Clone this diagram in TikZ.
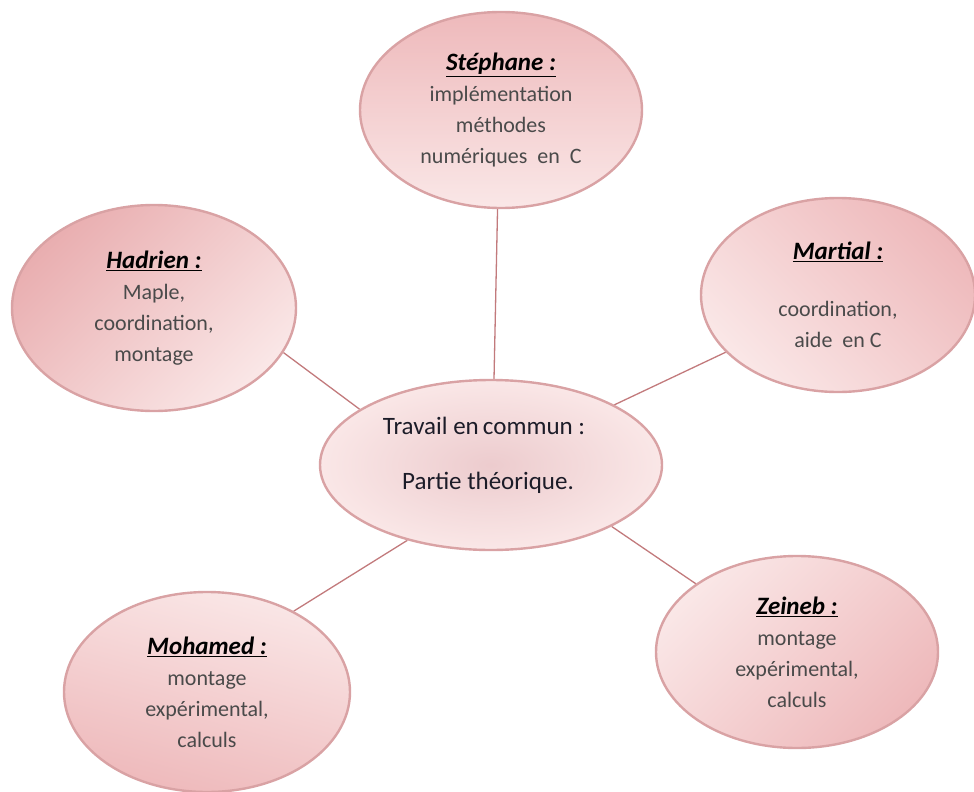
\documentclass[tikz,border=0pt]{standalone}
\usepackage{fontspec}
\setmainfont{Carlito}
\usetikzlibrary{shapes.geometric,backgrounds}
\definecolor{rim}{HTML}{D9A2A4}
\definecolor{link}{HTML}{C27A7C}
\definecolor{dk}{HTML}{EEB9BB}
\definecolor{dkk}{HTML}{E9AEB0}
\definecolor{lt}{HTML}{FAE7E7}
\definecolor{txt}{HTML}{4A4A4A}
\definecolor{ctxt}{HTML}{1C1C28}
\newcommand{\ttl}[1]{{\color{black}\fontsize{25}{31}\selectfont\underline{\textbf{\textit{#1}}}}}
\tikzset{
  bubble/.style={ellipse, draw=rim, line width=2.4pt, inner sep=0pt, align=center,
    text=txt, font=\fontsize{22}{31}\selectfont},
  linkline/.style={draw=link, line width=1.3pt},
}
\begin{document}
\begin{tikzpicture}[x=1pt,y=-1pt]
\useasboundingbox (0,0) rectangle (974,792);
\node[bubble, minimum width=282, minimum height=196, top color=dk, bottom color=lt] (steph) at (501,110)
  {\ttl{Stéphane :}\\implémentation\\méthodes\\numériques\ \ en\ \ C};
\node[bubble, minimum width=284, minimum height=206, top color=dkk, bottom color=lt, shading angle=45] (hadr) at (154,308)
  {\ttl{Hadrien :}\\Maple,\\coordination,\\montage};
\node[bubble, minimum width=274, minimum height=194, top color=dk, bottom color=lt, shading angle=-45] (mart) at (838,295)
  {\ttl{Martial :}\\[26pt]coordination,\\aide\ \ en C};
\node[bubble, minimum width=342, minimum height=170, inner color=dk!110!red, outer color=lt, text=ctxt,
  font=\fontsize{25}{31}\selectfont] (center) at (491,465)
  {\hspace*{-6pt}\raisebox{3pt}[0pt][0pt]{\begin{tabular}{@{}c@{}}\hspace*{-8pt}Travail en\,commun :\\[24pt]Partie théorique.\end{tabular}}};
\node[bubble, minimum width=282, minimum height=192, top color=lt, bottom color=dk, shading angle=45] (zein) at (797,652)
  {\ttl{Zeineb :}\\montage\\expérimental,\\calculs};
\node[bubble, minimum width=286, minimum height=200, top color=lt, bottom color=dk, shading angle=-15] (moha) at (207,692)
  {\ttl{Mohamed :}\\montage\\expérimental,\\calculs};
\begin{scope}[on background layer]
\draw[linkline] (steph.-92) -- (center.88);
\draw[linkline] (hadr.-19) -- (center.157.7);
\draw[linkline] (mart.-153.8) -- (center.26.8);
\draw[linkline] (zein.146.8) -- (center.-27.6);
\draw[linkline] (moha.43.6) -- (center.-138.2);
\end{scope}
\end{tikzpicture}
\end{document}
